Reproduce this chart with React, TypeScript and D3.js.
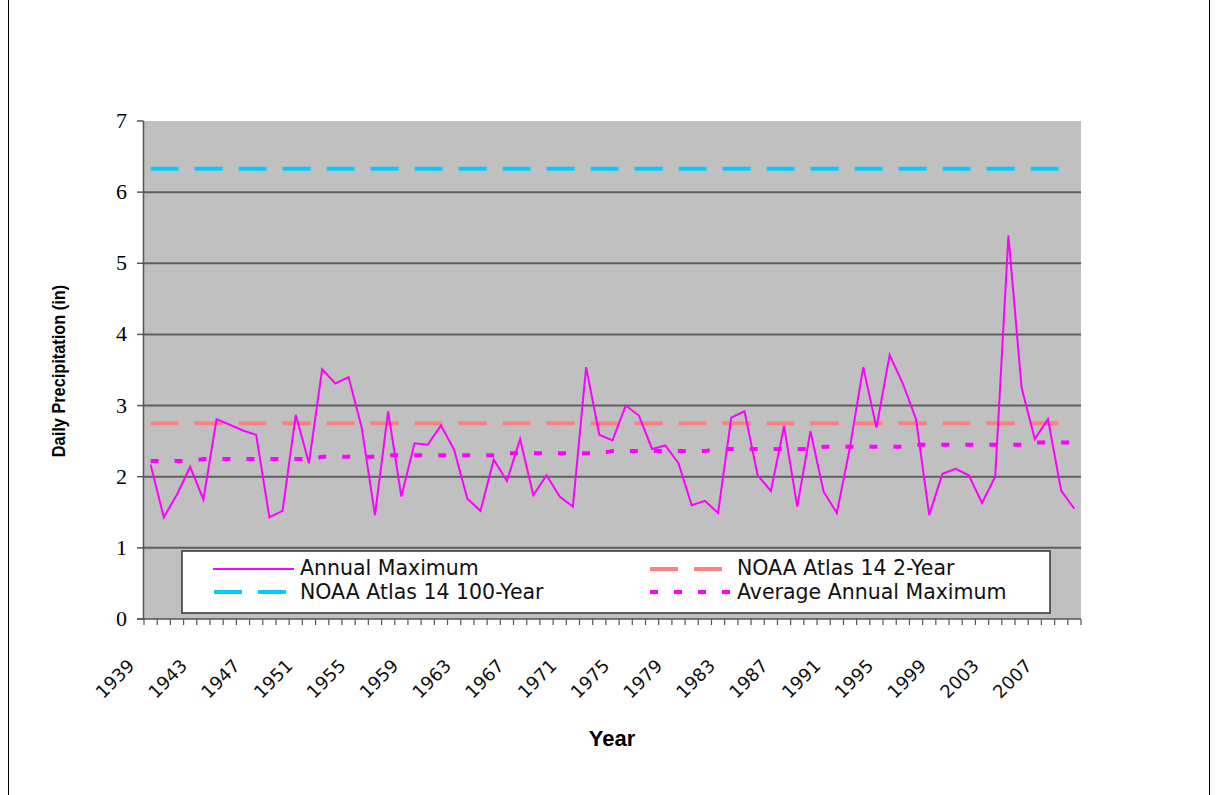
import React from "react";
import * as d3 from "d3";

// Annual maximum daily precipitation, 1939–2009
const years: number[] = [
  1939, 1940, 1941, 1942, 1943, 1944, 1945, 1946, 1947, 1948, 1949, 1950,
  1951, 1952, 1953, 1954, 1955, 1956, 1957, 1958, 1959, 1960, 1961, 1962,
  1963, 1964, 1965, 1966, 1967, 1968, 1969, 1970, 1971, 1972, 1973, 1974,
  1975, 1976, 1977, 1978, 1979, 1980, 1981, 1982, 1983, 1984, 1985, 1986,
  1987, 1988, 1989, 1990, 1991, 1992, 1993, 1994, 1995, 1996, 1997, 1998,
  1999, 2000, 2001, 2002, 2003, 2004, 2005, 2006, 2007, 2008, 2009,
];

const annualMaximum: number[] = [
  2.17, 1.43, 1.75, 2.14, 1.68, 2.81, 2.73, 2.65, 2.59, 1.43, 1.52, 2.87,
  2.19, 3.51, 3.31, 3.4, 2.69, 1.46, 2.92, 1.72, 2.47, 2.45, 2.72, 2.38,
  1.69, 1.52, 2.24, 1.94, 2.53, 1.74, 2.02, 1.72, 1.58, 3.54, 2.59, 2.51,
  3.0, 2.86, 2.39, 2.44, 2.19, 1.6, 1.66, 1.49, 2.83, 2.92, 2.02, 1.8,
  2.71, 1.58, 2.64, 1.79, 1.49, 2.42, 3.54, 2.69, 3.71, 3.31, 2.81, 1.46,
  2.04, 2.11, 2.02, 1.63, 2.0, 5.39, 3.25, 2.53, 2.81, 1.8, 1.55,
];

const averageAnnualMaximum: number[] = [
  2.22, 2.22, 2.22, 2.22, 2.25, 2.25, 2.25, 2.25, 2.25, 2.25, 2.25, 2.25,
  2.25, 2.28, 2.28, 2.28, 2.28, 2.28, 2.3, 2.3, 2.3, 2.3, 2.3, 2.3,
  2.3, 2.3, 2.3, 2.33, 2.33, 2.33, 2.33, 2.33, 2.33, 2.33, 2.33, 2.36,
  2.36, 2.36, 2.36, 2.36, 2.36, 2.36, 2.36, 2.39, 2.39, 2.39, 2.39, 2.39,
  2.39, 2.39, 2.39, 2.42, 2.42, 2.42, 2.42, 2.42, 2.42, 2.42, 2.45, 2.45,
  2.45, 2.45, 2.45, 2.45, 2.45, 2.45, 2.45, 2.48, 2.48, 2.48, 2.48,
];

const atlas14TwoYear = 2.75;
const atlas14HundredYear = 6.33;

const yTicks: number[] = [0, 1, 2, 3, 4, 5, 6, 7];
const yearLabels: number[] = [
  1939, 1943, 1947, 1951, 1955, 1959, 1963, 1967, 1971, 1975, 1979, 1983,
  1987, 1991, 1995, 1999, 2003, 2007,
];

const legendRow1: string[] = ["Annual Maximum", "NOAA Atlas 14 2-Year"];
const legendRow2: string[] = ["NOAA Atlas 14 100-Year", "Average Annual Maximum"];

const W = 1217;
const H = 795;
const plot = { left: 144, right: 1081, top: 121, bottom: 619 };

const MAGENTA = "#FF00FF";
const SALMON = "#FF8080";
const CYAN = "#00CCFF";
const LONG_DASH = "28,16";
const DOT_DASH = "8,16";

export default function App() {
  const x = d3
    .scaleBand<number>()
    .domain(years)
    .range([plot.left, plot.right])
    .padding(0);
  const bw = x.bandwidth();
  const cx = (yr: number) => (x(yr) as number) + bw / 2;
  const y = d3.scaleLinear().domain([0, 7]).range([plot.bottom, plot.top]);

  const line = d3
    .line<number>()
    .x((_, i) => cx(years[i]))
    .y((d) => y(d));

  const firstX = cx(years[0]);
  const lastX = cx(years[years.length - 1]);

  const boundaries = d3.range(years.length + 1).map((k) => plot.left + k * bw);

  const sans = "'DejaVu Sans', Verdana, sans-serif";
  const arial = "'Liberation Sans', Arial, sans-serif";
  const serif = "'Liberation Serif', 'Times New Roman', serif";

  return (
    <svg
      width={W}
      height={H}
      style={{ position: "absolute", left: 0, top: 0, background: "#fff" }}
    >
      {/* chart frame (top and bottom edges fall outside the page) */}
      <rect x={8.5} y={-20} width={1201} height={900} fill="#fff" stroke="#000" strokeWidth={1} />

      {/* plot area */}
      <rect
        x={plot.left}
        y={plot.top}
        width={plot.right - plot.left}
        height={plot.bottom - plot.top}
        fill="#C0C0C0"
      />
      {yTicks
        .filter((t) => t > 0 && t < 7)
        .map((t) => (
          <line
            key={`g${t}`}
            x1={plot.left}
            x2={plot.right}
            y1={y(t)}
            y2={y(t)}
            stroke="#5f5f5f"
            strokeWidth={2}
          />
        ))}

      {/* axes */}
      <line x1={143.5} x2={143.5} y1={plot.top} y2={plot.bottom} stroke="#555" strokeWidth={1.5} />
      {yTicks.map((t) => (
        <g key={`yt${t}`}>
          <line x1={137} x2={143.5} y1={y(t)} y2={y(t)} stroke="#555" strokeWidth={1.5} />
          <text
            x={127}
            y={y(t) + 7}
            textAnchor="end"
            fontFamily={serif}
            fontSize={22}
            fill="#000"
          >
            {t}
          </text>
        </g>
      ))}
      <line x1={137} x2={plot.right} y1={plot.bottom} y2={plot.bottom} stroke="#555" strokeWidth={1.5} />
      {boundaries.map((bx, k) => (
        <line
          key={`xt${k}`}
          x1={bx}
          x2={bx}
          y1={plot.bottom}
          y2={plot.bottom + 6}
          stroke="#555"
          strokeWidth={1.2}
        />
      ))}
      {yearLabels.map((yr) => {
        const px = cx(yr) - 15;
        const py = 667;
        return (
          <text
            key={`xl${yr}`}
            x={px}
            y={py}
            transform={`rotate(-45 ${px} ${py})`}
            textAnchor="end"
            fontFamily={sans}
            fontSize={18}
            fill="#111"
          >
            {yr}
          </text>
        );
      })}

      {/* reference levels */}
      <line
        x1={firstX}
        x2={lastX}
        y1={y(atlas14HundredYear)}
        y2={y(atlas14HundredYear)}
        stroke={CYAN}
        strokeWidth={4}
        strokeDasharray={LONG_DASH}
      />
      <line
        x1={firstX}
        x2={lastX}
        y1={y(atlas14TwoYear)}
        y2={y(atlas14TwoYear)}
        stroke={SALMON}
        strokeWidth={4}
        strokeDasharray={LONG_DASH}
      />
      <path
        d={line(averageAnnualMaximum) || ""}
        fill="none"
        stroke={MAGENTA}
        strokeWidth={4}
        strokeDasharray={DOT_DASH}
      />
      <path
        d={line(annualMaximum) || ""}
        fill="none"
        stroke={MAGENTA}
        strokeWidth={2}
        strokeLinejoin="miter"
      />

      {/* legend */}
      <rect x={182} y={551} width={868} height={62} fill="#fff" stroke="#333" strokeWidth={1.5} />
      <line x1={213} x2={294} y1={569} y2={569} stroke={MAGENTA} strokeWidth={2} />
      <text x={300} y={575} fontFamily={sans} fontSize={20.5} fill="#111">
        {legendRow1[0]}
      </text>
      <line x1={650} x2={722} y1={569} y2={569} stroke={SALMON} strokeWidth={4} strokeDasharray={LONG_DASH} />
      <text x={737} y={575} fontFamily={sans} fontSize={20.5} fill="#111">
        {legendRow1[1]}
      </text>
      <line x1={214} x2={286} y1={592} y2={592} stroke={CYAN} strokeWidth={4} strokeDasharray={LONG_DASH} />
      <text x={300} y={599} fontFamily={sans} fontSize={20.5} fill="#111">
        {legendRow2[0]}
      </text>
      <line x1={650} x2={730} y1={592} y2={592} stroke={MAGENTA} strokeWidth={4} strokeDasharray={DOT_DASH} />
      <text x={737} y={599} fontFamily={sans} fontSize={20.5} fill="#111">
        {legendRow2[1]}
      </text>

      {/* axis titles */}
      <text
        x={0}
        y={0}
        transform="translate(65 371) rotate(-90) scale(0.86 1)"
        textAnchor="middle"
        fontFamily={arial}
        fontWeight="bold"
        fontSize={19}
        fill="#000"
      >
        Daily Precipitation (in)
      </text>
      <text
        x={612}
        y={746}
        textAnchor="middle"
        fontFamily={arial}
        fontWeight="bold"
        fontSize={22}
        fill="#000"
      >
        Year
      </text>
    </svg>
  );
}
